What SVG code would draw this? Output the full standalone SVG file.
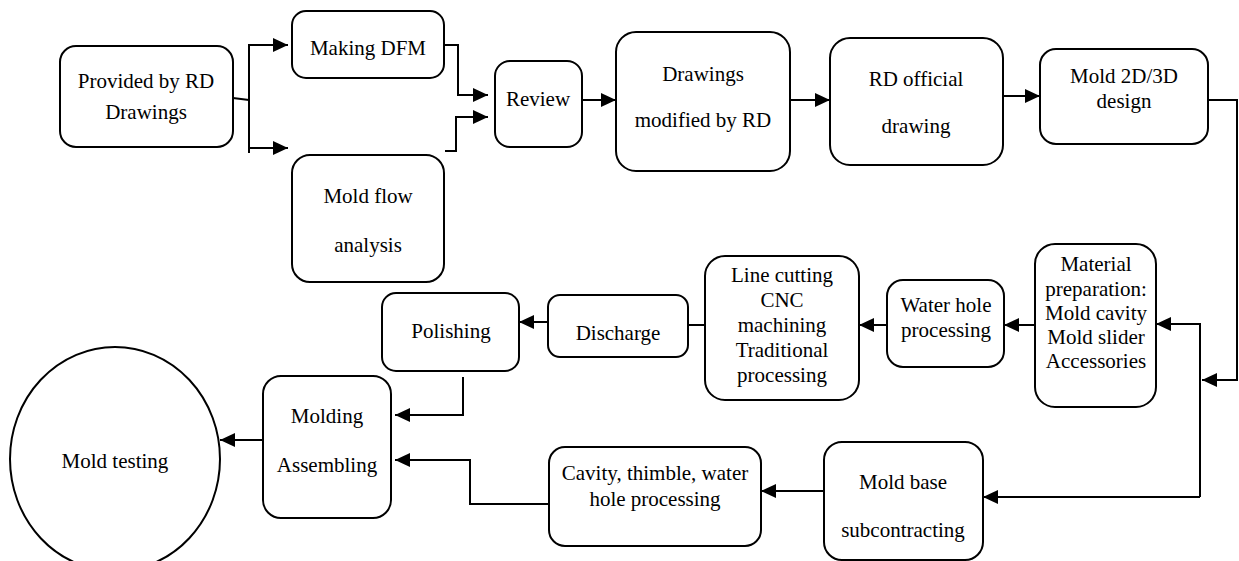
<svg xmlns="http://www.w3.org/2000/svg" width="1239" height="561" viewBox="0 0 1239 561">
<defs>
<marker id="ah" markerUnits="userSpaceOnUse" markerWidth="15" markerHeight="14" refX="15" refY="7" orient="auto">
<path d="M0,0 L15,7 L0,14 z" fill="#000"/>
</marker>
<style>
.box{fill:#fff;stroke:#000;stroke-width:2}
.t{font-family:'Liberation Serif','DejaVu Serif',serif;font-size:21px;fill:#000;text-anchor:middle}
.c{fill:none;stroke:#000;stroke-width:2}
.a{marker-end:url(#ah)}
</style>
</defs>
<rect width="1239" height="561" fill="#fff"/>
<g id="connectors">
<path class="c" d="M233,98 L249,100"/>
<path class="c" d="M249,44 V153"/>
<path class="c a" d="M249,45 H288"/>
<path class="c a" d="M249,148 H288"/>
<path class="c a" d="M444,45 H458 V95 H488"/>
<path class="c a" d="M445,151 H456 V117 H488"/>
<path class="c a" d="M582,100 H616"/>
<path class="c a" d="M790,100 H830"/>
<path class="c a" d="M1003,96 H1040"/>
<path class="c a" d="M1208,100 H1237 V380 H1202"/>
<path class="c a" d="M1200,497 V324 H1156"/>
<path class="c a" d="M1200,497 H983"/>
<path class="c a" d="M1035,325 H1004"/>
<path class="c a" d="M887,325 H859"/>
<path class="c" d="M705,325 H688"/>
<path class="c a" d="M548,322 H519"/>
<path class="c a" d="M463,377 V415 H395"/>
<path class="c a" d="M549,504 H470 V460 H395"/>
<path class="c a" d="M263,440 H220"/>
<path class="c a" d="M824,491 H761"/>
</g>
<g id="n-provided"><rect class="box" x="60" y="46" width="173" height="101" rx="16"/><text class="t" x="146" y="88" font-family="Liberation Serif, serif">Provided by RD</text><text class="t" x="146" y="119" font-family="Liberation Serif, serif">Drawings</text></g>
<g id="n-dfm"><rect class="box" x="292" y="11" width="152" height="67" rx="14"/><text class="t" x="368" y="55">Making DFM</text></g>
<g id="n-moldflow"><rect class="box" x="292" y="155" width="152" height="127" rx="18"/><text class="t" x="368" y="203">Mold flow</text><text class="t" x="368" y="252">analysis</text></g>
<g id="n-review"><rect class="box" x="495" y="61" width="87" height="86" rx="15"/><text class="t" x="538" y="106">Review</text></g>
<g id="n-modified"><rect class="box" x="616" y="32" width="174" height="139" rx="20"/><text class="t" x="703" y="81">Drawings</text><text class="t" x="703" y="127">modified by RD</text></g>
<g id="n-official"><rect class="box" x="830" y="38" width="173" height="127" rx="20"/><text class="t" x="916" y="86">RD official</text><text class="t" x="916" y="133">drawing</text></g>
<g id="n-design"><rect class="box" x="1040" y="49" width="168" height="95" rx="16"/><text class="t" x="1124" y="83">Mold 2D/3D</text><text class="t" x="1124" y="108">design</text></g>
<g id="n-material"><rect class="box" x="1035" y="244" width="121" height="163" rx="20"/><text class="t" x="1096" y="271">Material</text><text class="t" x="1096" y="296">preparation:</text><text class="t" x="1096" y="320">Mold cavity</text><text class="t" x="1096" y="344">Mold slider</text><text class="t" x="1096" y="368">Accessories</text></g>
<g id="n-water"><rect class="box" x="887" y="280" width="117" height="87" rx="16"/><text class="t" x="946" y="312">Water hole</text><text class="t" x="946" y="337">processing</text></g>
<g id="n-linecut"><rect class="box" x="705" y="256" width="154" height="144" rx="20"/><text class="t" x="782" y="282">Line cutting</text><text class="t" x="782" y="307">CNC</text><text class="t" x="782" y="332">machining</text><text class="t" x="782" y="357">Traditional</text><text class="t" x="782" y="382">processing</text></g>
<g id="n-discharge"><rect class="box" x="548" y="295" width="140" height="62" rx="12"/><text class="t" x="618" y="340">Discharge</text></g>
<g id="n-polishing"><rect class="box" x="382" y="293" width="137" height="78" rx="14"/><text class="t" x="451" y="338">Polishing</text></g>
<g id="n-molding"><rect class="box" x="263" y="376" width="128" height="142" rx="18"/><text class="t" x="327" y="423">Molding</text><text class="t" x="327" y="472">Assembling</text></g>
<g id="n-cavity"><rect class="box" x="549" y="447" width="212" height="99" rx="16"/><text class="t" x="655" y="480">Cavity, thimble, water</text><text class="t" x="655" y="506">hole processing</text></g>
<g id="n-moldbase"><rect class="box" x="824" y="442" width="159" height="118" rx="18"/><text class="t" x="903" y="489">Mold base</text><text class="t" x="903" y="537">subcontracting</text></g>
<g id="n-testing"><ellipse class="box" cx="115" cy="459" rx="105" ry="112"/><text class="t" x="115" y="468">Mold testing</text></g>
</svg>
